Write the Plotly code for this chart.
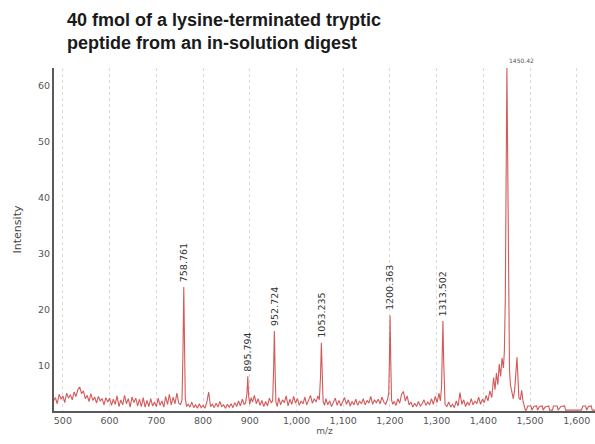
import plotly.graph_objects as go

# ---- data ----
mz_a = [480, 484, 488, 492, 496, 500, 504, 508, 512, 516, 520, 524, 528, 532, 536, 540, 544, 548,
        552, 556, 560, 564, 568, 572, 576, 580, 584, 588, 592, 596, 600, 604, 608, 612, 616, 620,
        624, 628, 632, 636, 640, 644, 648, 652, 656, 660, 664, 668, 672, 676, 680, 684, 688, 692,
        696, 700, 704, 708, 712, 716, 720, 724, 728, 732, 736, 740, 744, 748]
int_a = [3.6, 4.2, 3.1, 4.8, 3.9, 4.5, 3.3, 5.0, 4.1, 4.7, 3.8, 5.2, 4.4, 5.6, 6.1, 4.9, 5.4, 4.0,
         4.6, 3.5, 4.9, 3.7, 4.3, 3.2, 4.4, 3.6, 4.0, 2.9, 4.2, 3.4, 4.1, 2.8, 3.9, 3.0, 4.5, 2.6,
         3.8, 2.9, 4.6, 3.1, 4.0, 2.5, 4.3, 3.3, 4.1, 2.7, 3.9, 2.6, 4.2, 2.5, 3.7, 2.6, 4.0, 2.7,
         3.4, 2.6, 4.1, 2.8, 3.6, 2.5, 4.4, 3.0, 4.8, 2.9, 4.3, 3.1, 5.0, 3.2]

mz_b = [752, 755, 757, 758.761, 760.5, 762, 765, 768,
        772, 776, 780, 784, 788, 792, 796, 800, 804, 808, 812, 816, 820, 824, 828, 832, 836, 840,
        844, 848, 852, 856, 860, 864, 868, 872, 876, 880, 884, 888,
        891, 894, 895.794, 897.5, 900, 903,
        906, 910, 914, 918, 922, 926, 930, 934, 938, 942, 946,
        949, 951, 952.724, 954.5, 956, 959]
int_b = [3.0, 3.8, 12.0, 24.0, 13.0, 4.0, 2.6, 3.0,
         2.5, 3.4, 2.4, 2.9, 2.3, 3.1, 2.4, 2.8, 2.3, 3.3, 5.2, 2.6, 3.0, 2.4, 3.2, 2.5, 3.5, 2.6,
         2.9, 2.3, 3.0, 2.5, 3.1, 2.4, 3.3, 2.6, 3.6, 2.7, 3.9, 3.0,
         3.2, 5.0, 8.0, 4.6, 3.0, 4.2,
         3.4, 4.6, 3.1, 4.0, 2.8, 3.7, 2.6, 3.5, 2.7, 4.1, 3.3,
         3.6, 9.0, 16.1, 8.0, 3.4, 2.6]

mz_c = [962, 966, 970, 974, 978, 982, 986, 990, 994, 998, 1002, 1006, 1010, 1014, 1018, 1022,
        1026, 1030, 1034, 1038, 1042, 1046,
        1049, 1051.5, 1053.235, 1055, 1057, 1060,
        1063, 1067, 1071, 1075, 1079, 1083, 1087, 1091, 1095, 1099, 1103, 1107, 1111, 1115, 1119,
        1123, 1127, 1131, 1135, 1139, 1143, 1147, 1151, 1155, 1159, 1163, 1167, 1171, 1175, 1179,
        1183, 1187, 1191, 1195,
        1197.5, 1199, 1200.363, 1202, 1203.5, 1206]
int_c = [4.2, 2.9, 3.8, 3.3, 4.5, 2.7, 3.9, 3.0, 4.4, 3.2, 4.0, 2.8, 3.6, 3.1, 4.3, 2.9,
         3.7, 4.6, 3.2, 4.0, 3.4, 4.5,
         3.8, 8.0, 14.0, 7.0, 3.5, 2.8,
         4.0, 2.9, 3.6, 2.6, 3.3, 4.1, 2.8, 3.7, 2.7, 3.4, 4.2, 3.0, 3.8, 2.7, 3.5,
         2.9, 3.9, 2.8, 3.6, 3.1, 4.0, 2.9, 3.7, 3.2, 4.4, 3.0, 3.8, 3.3, 3.9, 3.1,
         4.3, 3.4, 3.0, 3.9,
         5.0, 11.0, 18.9, 10.0, 3.8, 3.0]

mz_d = [1209, 1213, 1217, 1221, 1225, 1229, 1233, 1237, 1241, 1245, 1249, 1253, 1257, 1261, 1265,
        1269, 1273, 1277, 1281, 1285, 1289, 1293, 1297, 1301, 1305, 1308,
        1310.5, 1312, 1313.502, 1315, 1316.5, 1318,
        1322, 1326, 1330, 1334, 1338, 1342, 1346, 1350, 1354, 1358, 1362, 1366, 1370, 1374, 1378,
        1382, 1386, 1390, 1394, 1398, 1402, 1406, 1410, 1414, 1418,
        1422, 1425, 1428, 1431, 1434, 1437, 1440, 1443, 1445, 1447, 1449, 1450.42, 1452, 1454,
        1456, 1458, 1461, 1464, 1467, 1470, 1472, 1474, 1476, 1479, 1482, 1485, 1488]
int_d = [3.5, 2.8, 4.0, 3.2, 4.8, 5.3, 3.6, 4.5, 2.9, 3.4, 2.5, 3.2, 2.6, 3.5, 2.7,
         3.1, 3.8, 2.8, 3.4, 2.9, 4.0, 3.0, 4.4, 3.3, 5.0, 3.6,
         6.0, 12.0, 17.9, 11.0, 5.5, 3.0,
         2.6, 3.4, 2.5, 3.0, 2.4, 3.6, 2.7, 5.1, 3.0, 3.8, 2.6, 3.4, 2.8, 4.0, 2.9,
         3.6, 3.1, 4.3, 3.0, 3.9, 3.3, 4.6, 3.6, 5.4, 4.2,
         7.8, 5.6, 8.6, 6.5, 10.2, 8.0, 11.3, 9.5, 12.5, 22.0, 50.0, 63.2, 48.0, 20.0,
         9.0, 6.5, 5.0, 4.0, 5.5, 10.5, 11.4, 8.0, 4.2, 3.8, 5.5, 3.5, 2.3]

mz_e = [1490, 1492, 1495, 1502, 1504, 1508, 1514, 1516, 1520, 1526, 1528, 1532, 1540, 1542,
        1548, 1550, 1558, 1560, 1566, 1574, 1576, 1580, 1600, 1610, 1613, 1619, 1621, 1625,
        1631, 1633, 1640]
int_e = [1.95, 1.95, 2.7, 2.7, 1.95, 2.6, 2.7, 1.95, 2.6, 2.7, 1.95, 2.5, 2.7, 1.95,
         1.95, 2.7, 2.7, 1.95, 2.6, 2.7, 1.95, 1.95, 1.95, 1.95, 2.7, 2.7, 1.95, 2.6,
         2.7, 1.95, 1.95]

peak_mz = [758.761, 895.794, 952.724, 1053.235, 1200.363, 1313.502]
peak_int = [24.0, 8.0, 16.1, 14.0, 18.9, 17.9]
peak_labels = ["758.761", "895.794", "952.724", "1053.235", "1200.363", "1313.502"]
top_mz = 1450.42
top_label = "1450.42"

x_ticks = [500, 600, 700, 800, 900, 1000, 1100, 1200, 1300, 1400, 1500, 1600]
x_ticktext = ["500", "600", "700", "800", "900", "1,000", "1,100", "1,200", "1,300", "1,400", "1,500", "1,600"]
y_ticks = [10, 20, 30, 40, 50, 60]

title_text = "40 fmol of a lysine-terminated tryptic<br>peptide from an in-solution digest"

mz = mz_a + mz_b + mz_c + mz_d + mz_e
inten = int_a + int_b + int_c + int_d + int_e

FONT = "DejaVu Sans"

fig = go.Figure()
fig.add_trace(go.Scatter(x=mz, y=inten, mode="lines",
                         line=dict(color="rgba(205,60,60,0.85)", width=1.1),
                         hoverinfo="skip", showlegend=False))

for x, y, t in zip(peak_mz, peak_int, peak_labels):
    fig.add_annotation(x=x, y=y, text=t, textangle=-90, showarrow=False,
                       xanchor="center", yanchor="bottom", yshift=3,
                       font=dict(family=FONT, size=9.5, color="#333333"))

fig.add_annotation(x=top_mz, y=1, yref="paper", text=top_label, showarrow=False,
                   xanchor="left", yanchor="bottom", yshift=2,
                   font=dict(family=FONT, size=6, color="#555555"))

fig.add_annotation(x=-0.068, y=0.53, xref="paper", yref="paper", text="Intensity",
                   textangle=-90, showarrow=False, xanchor="center", yanchor="middle",
                   font=dict(family=FONT, size=11, color="#444444"))

# title (two lines, bold, left-aligned)
fig.add_annotation(x=(65 - 54) / 541, y=1 + 60 / 343, xref="paper", yref="paper",
                   text=title_text, showarrow=False, xanchor="left", yanchor="top", align="left",
                   font=dict(family="Liberation Sans", size=18, color="#1a1a1a", weight="bold"))

fig.update_layout(
    width=595, height=444,
    margin=dict(l=54, r=0, t=68, b=33),
    paper_bgcolor="white", plot_bgcolor="white",
    xaxis=dict(range=[481, 1639], tickvals=x_ticks, ticktext=x_ticktext,
               showgrid=True, gridcolor="#dadada", griddash="dot", gridwidth=1,
               showline=True, linecolor="#5a5a5a", linewidth=2, zeroline=False,
               ticks="", tickfont=dict(family=FONT, size=9.5, color="#555555"),
               title=dict(text="m/z", font=dict(family=FONT, size=9, color="#555555"), standoff=2)),
    yaxis=dict(range=[1.8, 63.2], tickvals=y_ticks, showgrid=False,
               showline=True, linecolor="#5a5a5a", linewidth=2, zeroline=False,
               ticks="", tickfont=dict(family=FONT, size=9.5, color="#555555")),
)

fig.write_html("out.html")
